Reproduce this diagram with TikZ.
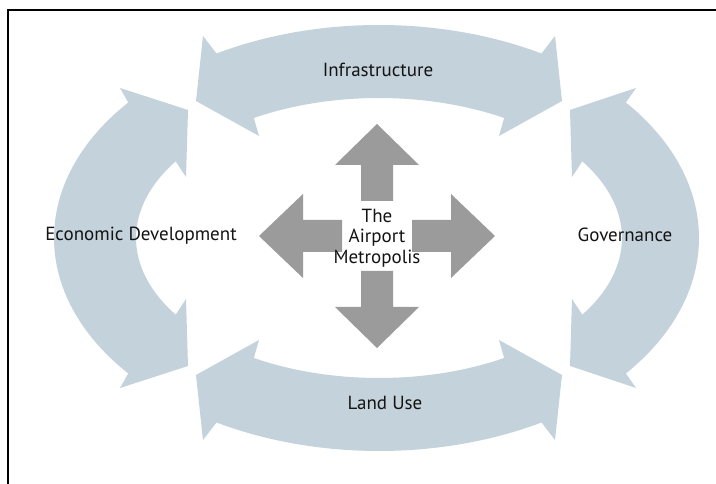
\documentclass[tikz,border=0pt]{standalone}
\usepackage{fontspec}
\setmainfont{PT Sans}
\usetikzlibrary{calc}
\definecolor{ringblue}{RGB}{196,210,219}
\definecolor{hubgray}{RGB}{155,155,155}
\definecolor{labelink}{RGB}{20,20,20}
\begin{document}
\begin{tikzpicture}[x=1pt,y=1pt,
  band/.style={fill=ringblue,draw=none},
  spoke/.style={fill=hubgray,draw=none},
  lbl/.style={font=\fontsize{19}{20.5}\selectfont,text=labelink,inner sep=0pt},
  frameline/.style={line width=2.2pt,draw=black}]
\useasboundingbox (0,0) rectangle (716,484);
\fill[white] (0,0) rectangle (716,484);
\coordinate (C) at (379,246);
\coordinate (M) at (377,248);
% top band (Infrastructure)
\fill[band] ($(C)+(120:325pt and 213pt)$)
  arc[start angle=120,end angle=60,x radius=325pt,y radius=213pt]
  -- ($(C)+(176,202)$) -- ($(C)+(183,137)$) -- ($(C)+(120,102)$)
  -- ($(C)+(59:243pt and 140pt)$)
  arc[start angle=59,end angle=121,x radius=243pt,y radius=140pt]
  -- ($(C)+(-120,102)$) -- ($(C)+(-183,137)$) -- ($(C)+(-176,202)$) -- cycle;
% bottom band (Land Use)
\fill[band] ($(C)+(-120:325pt and 213pt)$)
  arc[start angle=-120,end angle=-60,x radius=325pt,y radius=213pt]
  -- ($(C)+(176,-202)$) -- ($(C)+(183,-137)$) -- ($(C)+(120,-102)$)
  -- ($(C)+(-59:243pt and 140pt)$)
  arc[start angle=-59,end angle=-121,x radius=243pt,y radius=140pt]
  -- ($(C)+(-120,-102)$) -- ($(C)+(-183,-137)$) -- ($(C)+(-176,-202)$) -- cycle;
% left band (Economic Development)
\fill[band] ($(C)+(140.5:325pt and 213pt)$)
  -- ($(C)+(-259,150)$) -- ($(C)+(-191,128)$) -- ($(C)+(-193,61)$)
  -- ($(C)+(146.8:243pt and 140pt)$)
  arc[start angle=146.8,end angle=213.2,x radius=243pt,y radius=140pt]
  -- ($(C)+(-193,-61)$) -- ($(C)+(-191,-128)$) -- ($(C)+(-259,-150)$)
  -- ($(C)+(219.5:325pt and 213pt)$)
  arc[start angle=219.5,end angle=140.5,x radius=325pt,y radius=213pt] -- cycle;
% right band (Governance)
\fill[band] ($(C)+(39.5:320pt and 213pt)$)
  -- ($(C)+(257,150)$) -- ($(C)+(191,128)$) -- ($(C)+(193,61)$)
  -- ($(C)+(33.2:243pt and 140pt)$)
  arc[start angle=33.2,end angle=-33.2,x radius=243pt,y radius=140pt]
  -- ($(C)+(193,-61)$) -- ($(C)+(191,-128)$) -- ($(C)+(257,-150)$)
  -- ($(C)+(-39.5:320pt and 213pt)$)
  arc[start angle=-39.5,end angle=39.5,x radius=320pt,y radius=213pt] -- cycle;
% central cross
\foreach \ang/\hb/\tp in {0/74/118,90/71/112,180/74/118,270/71/112}{
  \begin{scope}[shift={(M)},rotate=\ang]
    \fill[spoke] (35,-16) -- (\hb,-16) -- (\hb,-42) -- (\tp,0) -- (\hb,42) -- (\hb,16) -- (35,16) -- cycle;
  \end{scope}}
% labels
\node[lbl,anchor=base] (infra) at (378,407.5) {Infrastructure};
\node[lbl,anchor=base] (landuse) at (385,74.5) {Land Use};
\node[lbl,anchor=base] (econ) at (141,243.5) {Economic Development};
\node[lbl,anchor=base] (gov) at (625,242.5) {Governance};
\node[lbl,align=center] (hub) at (377,246) {The\\Airport\\Metropolis};
% frame
\draw[frameline] (8,0) -- (8,474) -- (716,474);
\end{tikzpicture}
\end{document}
